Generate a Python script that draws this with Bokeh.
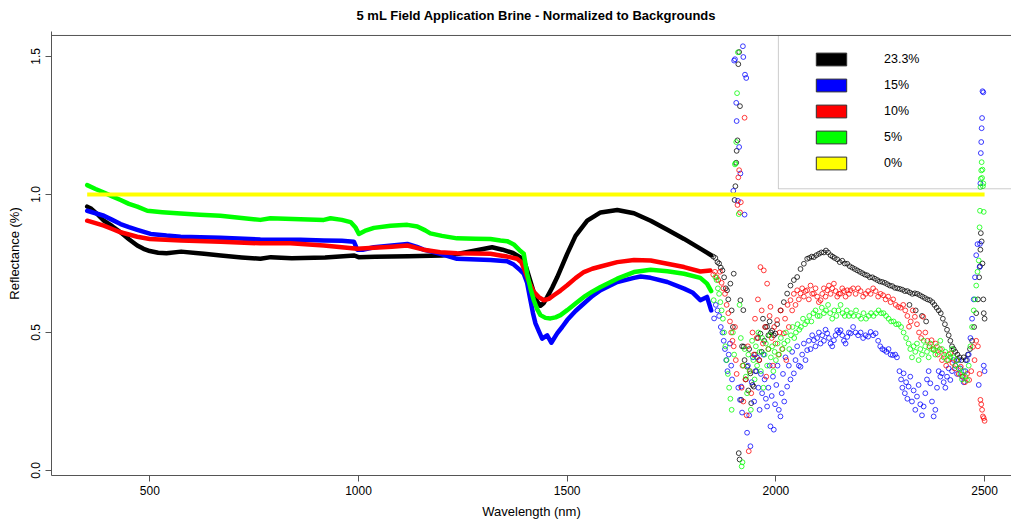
from bokeh.plotting import figure
from bokeh.models import Legend, LegendItem, BoxAnnotation, Span, FixedTicker
from bokeh.embed import file_html
from bokeh.resources import INLINE

TITLE = "5 mL Field Application Brine - Normalized to Backgrounds"
X_LABEL = "Wavelength (nm)"
Y_LABEL = "Reflectance (%)"
X_TICKS = [500, 1000, 1500, 2000, 2500]
Y_TICKS = [0.0, 0.5, 1.0, 1.5]
Y_TICK_LABELS = ["0.0", "0.5", "1.0", "1.5"]

SERIES = ["23.3%", "15%", "10%", "5%", "0%"]
COLORS = ["#000000", "#0000FF", "#FF0000", "#00FF00", "#FFFF00"]

# ---- 23.3% (black) ----
black_wl = [350, 360, 375, 390, 410, 430, 450, 470, 485, 500, 520, 540, 575, 630, 670, 720, 765, 790, 840, 920, 990,
            1000, 1040, 1120, 1200, 1240, 1280, 1320, 1345, 1370, 1390, 1400, 1410, 1420, 1428, 1436, 1444, 1452,
            1464, 1476, 1488, 1500, 1520, 1548, 1580, 1620, 1660, 1700, 1740, 1780, 1820, 1845]
black_val = [0.956, 0.948, 0.928, 0.905, 0.885, 0.863, 0.838, 0.815, 0.803, 0.795, 0.789, 0.787, 0.793, 0.785,
             0.779, 0.772, 0.767, 0.773, 0.769, 0.772, 0.779, 0.773, 0.774, 0.776, 0.779, 0.785, 0.797, 0.809,
             0.800, 0.788, 0.770, 0.745, 0.695, 0.645, 0.612, 0.597, 0.607, 0.628, 0.662, 0.700, 0.742, 0.785,
             0.850, 0.905, 0.935, 0.944, 0.932, 0.905, 0.872, 0.839, 0.803, 0.780]
black_scatter_wl = [1850, 1855, 1860, 1864, 1868, 1872, 1876, 1880, 1883, 1886, 1891, 1894, 1897, 1899, 1901, 1903,
                    1905, 1906, 1908, 1910, 1912, 1914, 1911, 1913, 1915, 1917, 1919, 1922, 1923, 1925, 1928, 1931,
                    1934, 1936, 1939, 1941, 1944, 1947, 1950, 1953, 1957, 1960, 1963, 1966, 1969, 1972, 1975, 1979,
                    1982, 1985, 1988, 1991, 1995, 1999, 2003, 2011, 2019, 2027, 2035, 2043, 2051, 2059, 2067, 2075,
                    2080, 2086, 2091, 2097, 2103, 2109, 2115, 2120, 2125, 2131, 2136, 2141, 2147, 2153, 2159, 2165,
                    2171, 2177, 2183, 2189, 2195, 2201, 2207, 2213, 2219, 2225, 2231, 2237, 2243, 2249, 2255, 2261,
                    2267, 2273, 2279, 2285, 2291, 2297, 2303, 2309, 2315, 2320, 2321, 2327, 2333, 2335, 2339, 2345,
                    2350, 2351, 2357, 2360, 2363, 2369, 2375, 2380, 2385, 2390, 2395, 2400, 2405, 2410, 2414, 2418,
                    2422, 2426, 2430, 2435, 2440, 2445, 2450, 2455, 2460, 2465, 2470, 2475, 2480, 2484, 2487, 2489,
                    2490, 2491, 2493, 2495, 2497, 2498, 2500]
black_scatter_val = [0.775, 0.770, 0.755, 0.750, 0.735, 0.725, 0.700, 0.660, 0.653, 0.620, 0.677, 0.580, 0.520,
                     0.713, 0.980, 1.030, 1.115, 1.158, 1.196, 1.472, 1.516, 1.320, 0.063, 0.040, 0.617, 0.256,
                     0.450, 0.581, 0.449, 0.400, 0.330, 0.376, 0.290, 0.440, 0.352, 0.244, 0.310, 0.304, 0.420,
                     0.360, 0.480, 0.400, 0.496, 0.430, 0.550, 0.470, 0.520, 0.521, 0.490, 0.540, 0.500, 0.507,
                     0.490, 0.496, 0.530, 0.580, 0.610, 0.641, 0.670, 0.690, 0.701, 0.730, 0.749, 0.767, 0.770,
                     0.775, 0.773, 0.780, 0.785, 0.790, 0.790, 0.797, 0.790, 0.780, 0.775, 0.770, 0.765, 0.755,
                     0.760, 0.750, 0.749, 0.740, 0.735, 0.730, 0.725, 0.720, 0.715, 0.710, 0.707, 0.700, 0.700,
                     0.695, 0.690, 0.685, 0.683, 0.680, 0.675, 0.670, 0.668, 0.662, 0.660, 0.658, 0.655, 0.650,
                     0.650, 0.600, 0.645, 0.640, 0.642, 0.580, 0.640, 0.635, 0.560, 0.630, 0.625, 0.540, 0.620,
                     0.617, 0.610, 0.600, 0.590, 0.580, 0.570, 0.550, 0.530, 0.510, 0.490, 0.470, 0.450, 0.440,
                     0.430, 0.420, 0.410, 0.400, 0.410, 0.400, 0.420, 0.440, 0.470, 0.520, 0.570, 0.620, 0.700,
                     0.740, 0.800, 0.860, 0.830, 0.750, 0.620, 0.570, 0.550]

# ---- 15% (blue) ----
blue_wl = [350, 370, 390, 410, 430, 450, 470, 502, 540, 574, 669, 765, 861, 917, 960, 989, 997, 1010, 1037, 1080,
           1117, 1140, 1156, 1196, 1236, 1316, 1356, 1372, 1388, 1396, 1404, 1412, 1418, 1424, 1432, 1440, 1452,
           1462, 1476, 1488, 1500, 1520, 1540, 1560, 1580, 1620, 1660, 1676, 1700, 1740, 1780, 1800, 1819, 1835,
           1845]
blue_val = [0.941, 0.932, 0.923, 0.908, 0.893, 0.882, 0.872, 0.857, 0.851, 0.847, 0.843, 0.837, 0.836, 0.833,
            0.832, 0.829, 0.800, 0.800, 0.809, 0.815, 0.821, 0.810, 0.800, 0.785, 0.767, 0.763, 0.758, 0.746,
            0.725, 0.713, 0.680, 0.617, 0.570, 0.533, 0.505, 0.478, 0.490, 0.463, 0.497, 0.520, 0.545, 0.578,
            0.605, 0.632, 0.653, 0.683, 0.698, 0.703, 0.698, 0.683, 0.659, 0.645, 0.617, 0.629, 0.580]
blue_scatter_wl = [1852, 1856, 1860, 1864, 1868, 1872, 1875, 1878, 1881, 1884, 1887, 1890, 1893, 1895, 1898, 1900,
                   1902, 1905, 1906, 1909, 1910, 1912, 1914, 1915, 1917, 1919, 1921, 1922, 1925, 1926, 1929, 1931,
                   1933, 1936, 1939, 1942, 1945, 1948, 1951, 1955, 1958, 1961, 1964, 1967, 1970, 1973, 1976, 1979,
                   1982, 1985, 1987, 1990, 1993, 1995, 1998, 2001, 2004, 2007, 2011, 2014, 2017, 2020, 2023, 2027,
                   2031, 2035, 2039, 2043, 2047, 2051, 2055, 2059, 2063, 2067, 2071, 2075, 2079, 2083, 2087, 2091,
                   2095, 2099, 2103, 2107, 2111, 2115, 2119, 2123, 2127, 2131, 2135, 2139, 2143, 2147, 2151, 2155,
                   2159, 2163, 2167, 2171, 2175, 2179, 2185, 2191, 2197, 2203, 2209, 2215, 2221, 2227, 2233, 2239,
                   2245, 2250, 2255, 2260, 2265, 2270, 2275, 2280, 2286, 2290, 2296, 2300, 2303, 2306, 2309, 2312,
                   2315, 2318, 2322, 2326, 2330, 2334, 2338, 2342, 2346, 2350, 2354, 2358, 2362, 2366, 2370, 2374,
                   2378, 2382, 2386, 2390, 2394, 2398, 2402, 2406, 2410, 2414, 2418, 2422, 2426, 2430, 2434, 2438,
                   2442, 2446, 2450, 2454, 2458, 2462, 2466, 2470, 2474, 2477, 2480, 2483, 2486, 2488, 2489, 2490,
                   2491, 2492, 2493, 2494, 2495, 2497, 2498, 2500]
blue_scatter_val = [0.551, 0.600, 0.580, 0.560, 0.520, 0.500, 0.470, 0.440, 0.400, 0.360, 0.420, 0.460, 0.380,
                    0.330, 1.013, 1.485, 1.490, 1.332, 1.266, 0.977, 0.300, 1.172, 0.256, 1.076, 0.304, 0.210,
                    1.537, 1.498, 0.927, 1.434, 1.422, 0.137, 0.380, 0.200, 0.088, 0.320, 0.410, 0.250, 0.360,
                    0.410, 0.300, 0.220, 0.350, 0.280, 0.420, 0.330, 0.260, 0.232, 0.300, 0.380, 0.160, 0.270,
                    0.340, 0.148, 0.240, 0.310, 0.380, 0.220, 0.196, 0.280, 0.350, 0.250, 0.410, 0.304, 0.380,
                    0.330, 0.430, 0.352, 0.400, 0.450, 0.380, 0.376, 0.420, 0.460, 0.400, 0.436, 0.470, 0.440,
                    0.490, 0.472, 0.450, 0.480, 0.500, 0.460, 0.490, 0.470, 0.510, 0.497, 0.480, 0.460, 0.450,
                    0.472, 0.490, 0.508, 0.500, 0.508, 0.490, 0.470, 0.460, 0.484, 0.500, 0.497, 0.520, 0.500,
                    0.490, 0.500, 0.480, 0.490, 0.485, 0.502, 0.490, 0.497, 0.470, 0.450, 0.440, 0.436, 0.430,
                    0.440, 0.420, 0.418, 0.420, 0.410, 0.360, 0.330, 0.300, 0.352, 0.280, 0.320, 0.260, 0.304,
                    0.340, 0.250, 0.290, 0.220, 0.268, 0.310, 0.240, 0.200, 0.232, 0.280, 0.330, 0.360, 0.316,
                    0.250, 0.196, 0.220, 0.300, 0.360, 0.340, 0.352, 0.320, 0.300, 0.340, 0.370, 0.328, 0.360,
                    0.400, 0.380, 0.350, 0.400, 0.370, 0.340, 0.320, 0.360, 0.400, 0.420, 0.480, 0.550, 0.620,
                    0.700, 0.780, 0.820, 0.310, 0.737, 0.821, 1.040, 1.150, 1.190, 1.240, 1.277, 1.374, 1.370,
                    0.380, 0.360]

# ---- 10% (red) ----
red_wl = [350, 370, 390, 410, 430, 450, 470, 500, 575, 670, 765, 837, 917, 997, 1037, 1080, 1117, 1156, 1196, 1236,
          1316, 1340, 1356, 1380, 1390, 1397, 1404, 1412, 1420, 1432, 1444, 1456, 1468, 1484, 1500, 1520, 1540, 1560,
          1580, 1620, 1660, 1700, 1740, 1780, 1819, 1843]
red_val = [0.905, 0.896, 0.887, 0.875, 0.863, 0.855, 0.847, 0.839, 0.833, 0.829, 0.823, 0.823, 0.815, 0.803,
           0.807, 0.811, 0.815, 0.800, 0.791, 0.787, 0.785, 0.779, 0.775, 0.767, 0.755, 0.730, 0.701, 0.672,
           0.647, 0.628, 0.617, 0.622, 0.635, 0.652, 0.671, 0.697, 0.719, 0.731, 0.739, 0.755, 0.763, 0.761,
           0.749, 0.737, 0.721, 0.725]
red_scatter_wl = [1850, 1854, 1858, 1862, 1866, 1870, 1874, 1878, 1882, 1886, 1890, 1893, 1896, 1899, 1902, 1904,
                  1906, 1908, 1910, 1912, 1914, 1916, 1918, 1920, 1922, 1925, 1927, 1930, 1933, 1935, 1938, 1941,
                  1944, 1947, 1950, 1954, 1957, 1960, 1963, 1966, 1969, 1971, 1974, 1977, 1979, 1982, 1985, 1987,
                  1990, 1993, 1996, 1999, 2003, 2006, 2009, 2012, 2015, 2019, 2022, 2025, 2028, 2031, 2035, 2039,
                  2043, 2047, 2051, 2055, 2059, 2063, 2067, 2071, 2075, 2079, 2083, 2087, 2091, 2095, 2099, 2103,
                  2107, 2111, 2115, 2119, 2123, 2127, 2131, 2135, 2139, 2143, 2147, 2151, 2155, 2159, 2163, 2167,
                  2171, 2175, 2179, 2185, 2191, 2197, 2203, 2209, 2215, 2221, 2227, 2233, 2239, 2245, 2251, 2257,
                  2263, 2269, 2275, 2281, 2287, 2293, 2299, 2305, 2310, 2315, 2319, 2323, 2328, 2333, 2338, 2343,
                  2348, 2353, 2358, 2363, 2368, 2373, 2378, 2383, 2388, 2393, 2398, 2403, 2408, 2413, 2418, 2423,
                  2428, 2433, 2438, 2443, 2448, 2453, 2458, 2463, 2468, 2472, 2476, 2480, 2484, 2488, 2490, 2492,
                  2494, 2496, 2498, 2500]
red_scatter_val = [0.710, 0.720, 0.700, 0.690, 0.720, 0.680, 0.660, 0.640, 0.600, 0.570, 0.540, 0.500, 0.470,
                   0.450, 0.520, 0.400, 0.350, 0.962, 1.062, 1.088, 0.935, 0.972, 0.300, 0.380, 0.250, 1.278,
                   0.330, 0.200, 0.450, 0.070, 0.360, 0.280, 0.500, 0.420, 0.550, 0.480, 0.620, 0.400, 0.737,
                   0.580, 0.460, 0.725, 0.520, 0.340, 0.677, 0.440, 0.560, 0.593, 0.480, 0.380, 0.520, 0.460,
                   0.545, 0.420, 0.500, 0.580, 0.440, 0.497, 0.550, 0.400, 0.600, 0.520, 0.617, 0.580, 0.640,
                   0.600, 0.653, 0.620, 0.641, 0.660, 0.630, 0.650, 0.653, 0.620, 0.670, 0.640, 0.641, 0.660,
                   0.630, 0.610, 0.617, 0.640, 0.660, 0.630, 0.653, 0.670, 0.640, 0.660, 0.677, 0.650, 0.630,
                   0.640, 0.641, 0.660, 0.650, 0.630, 0.653, 0.640, 0.653, 0.660, 0.640, 0.660, 0.650, 0.630,
                   0.640, 0.650, 0.640, 0.660, 0.650, 0.630, 0.640, 0.635, 0.620, 0.630, 0.610, 0.620, 0.600,
                   0.593, 0.590, 0.600, 0.580, 0.560, 0.521, 0.540, 0.580, 0.557, 0.530, 0.500, 0.480, 0.557,
                   0.500, 0.470, 0.450, 0.472, 0.440, 0.460, 0.420, 0.440, 0.400, 0.420, 0.380, 0.400, 0.424,
                   0.390, 0.370, 0.400, 0.350, 0.376, 0.340, 0.320, 0.350, 0.328, 0.360, 0.448, 0.400, 0.470,
                   0.450, 0.350, 0.256, 0.240, 0.220, 0.196, 0.190, 0.180]

# ---- 5% (green) ----
green_wl = [350, 370, 390, 410, 430, 450, 470, 494, 530, 574, 620, 669, 720, 765, 789, 861, 917, 933, 960, 981, 993,
            1001, 1015, 1037, 1077, 1117, 1141, 1160, 1172, 1200, 1236, 1280, 1316, 1340, 1356, 1372, 1388, 1396,
            1404, 1412, 1420, 1428, 1436, 1448, 1460, 1472, 1484, 1500, 1520, 1540, 1560, 1580, 1620, 1660, 1700,
            1740, 1780, 1819, 1835, 1845]
green_val = [1.034, 1.020, 1.007, 0.993, 0.980, 0.966, 0.956, 0.941, 0.936, 0.931, 0.927, 0.923, 0.915, 0.908,
             0.914, 0.910, 0.908, 0.914, 0.908, 0.900, 0.880, 0.857, 0.868, 0.879, 0.887, 0.890, 0.884, 0.870,
             0.859, 0.850, 0.841, 0.840, 0.839, 0.833, 0.831, 0.819, 0.795, 0.785, 0.713, 0.660, 0.617, 0.585,
             0.563, 0.553, 0.551, 0.555, 0.563, 0.581, 0.605, 0.629, 0.648, 0.665, 0.695, 0.719, 0.727, 0.722,
             0.713, 0.698, 0.677, 0.650]
green_scatter_wl = [1851, 1855, 1858, 1861, 1864, 1867, 1870, 1873, 1876, 1879, 1882, 1885, 1888, 1891, 1894, 1897,
                    1900, 1902, 1903, 1905, 1907, 1909, 1911, 1913, 1916, 1918, 1920, 1922, 1925, 1928, 1931, 1934,
                    1937, 1940, 1943, 1946, 1949, 1952, 1955, 1958, 1961, 1964, 1967, 1970, 1973, 1976, 1979, 1982,
                    1985, 1988, 1991, 1994, 1997, 2000, 2004, 2008, 2012, 2016, 2020, 2024, 2028, 2032, 2036, 2040,
                    2044, 2048, 2052, 2056, 2060, 2065, 2070, 2075, 2080, 2085, 2090, 2095, 2100, 2105, 2110, 2115,
                    2120, 2125, 2130, 2135, 2140, 2145, 2150, 2155, 2160, 2165, 2170, 2175, 2180, 2186, 2192, 2198,
                    2204, 2210, 2216, 2222, 2228, 2234, 2240, 2246, 2252, 2258, 2264, 2270, 2276, 2282, 2288, 2294,
                    2300, 2306, 2312, 2318, 2322, 2326, 2330, 2334, 2338, 2342, 2346, 2350, 2354, 2358, 2362, 2366,
                    2370, 2374, 2378, 2382, 2386, 2390, 2394, 2398, 2402, 2406, 2410, 2414, 2418, 2422, 2426, 2430,
                    2434, 2438, 2442, 2446, 2450, 2454, 2458, 2462, 2466, 2470, 2474, 2477, 2480, 2483, 2486, 2488,
                    2489, 2490, 2491, 2492, 2493, 2494, 2495, 2496, 2497, 2498]
green_scatter_val = [0.617, 0.700, 0.690, 0.660, 0.640, 0.610, 0.580, 0.550, 0.500, 0.450, 0.400, 0.350, 0.300,
                     0.260, 0.220, 0.500, 0.420, 1.109, 1.113, 1.190, 1.367, 1.515, 0.929, 0.600, 0.480, 0.015,
                     0.030, 0.380, 0.440, 0.340, 0.280, 0.420, 0.360, 0.220, 0.470, 0.400, 0.330, 0.450, 0.380,
                     0.500, 0.430, 0.360, 0.480, 0.300, 0.420, 0.460, 0.380, 0.440, 0.490, 0.410, 0.450, 0.360,
                     0.430, 0.400, 0.460, 0.420, 0.480, 0.440, 0.460, 0.500, 0.470, 0.440, 0.490, 0.520, 0.480,
                     0.500, 0.530, 0.510, 0.520, 0.550, 0.530, 0.540, 0.560, 0.540, 0.570, 0.580, 0.560, 0.560,
                     0.590, 0.570, 0.580, 0.600, 0.570, 0.550, 0.580, 0.560, 0.580, 0.600, 0.570, 0.560, 0.580,
                     0.560, 0.570, 0.560, 0.580, 0.560, 0.550, 0.570, 0.550, 0.560, 0.570, 0.560, 0.570, 0.580,
                     0.570, 0.570, 0.560, 0.550, 0.540, 0.540, 0.530, 0.530, 0.520, 0.500, 0.480, 0.460, 0.440,
                     0.410, 0.450, 0.430, 0.460, 0.400, 0.440, 0.420, 0.470, 0.450, 0.430, 0.410, 0.460, 0.440,
                     0.436, 0.420, 0.450, 0.430, 0.470, 0.440, 0.410, 0.430, 0.400, 0.420, 0.412, 0.440, 0.410,
                     0.380, 0.400, 0.370, 0.350, 0.330, 0.360, 0.340, 0.328, 0.380, 0.450, 0.520, 0.580, 0.620,
                     0.670, 0.720, 0.761, 0.881, 0.941, 1.027, 1.057, 1.087, 1.117, 1.060, 1.090, 1.030, 1.040,
                     0.937]

# ---- 0% (yellow) ----
yellow_wl = [350, 2500]
yellow_val = [1.0, 1.0]

FONT = "Liberation Sans"
AXIS_COLOR = "#555555"
BOX_TOP = 1.576  # where R draws the top of the plot box

p = figure(width=1011, height=521, output_backend="svg", toolbar_location=None,
           x_range=(264.5, 2564.5), y_range=(-0.018, 1.5904),
           min_border_left=51, min_border_right=0, min_border_top=30, min_border_bottom=45)
p.background_fill_color = "white"
p.border_fill_color = "white"
p.outline_line_color = None
p.grid.visible = False

# title: centred over the full R plot region (which runs past the right edge of the window)
p.title.text = TITLE
p.title.align = "left"
p.title.offset = 305
p.title.vertical_align = "top"
p.title.standoff = 14
p.title.text_font = FONT
p.title.text_font_size = "13px"
p.title.text_font_style = "bold"
p.title.text_color = "#000000"

for ax in (p.xaxis[0], p.yaxis[0]):
    ax.axis_line_color = AXIS_COLOR
    ax.major_tick_line_color = AXIS_COLOR
    ax.major_tick_out = 6
    ax.major_tick_in = 0
    ax.minor_tick_line_color = None
    ax.major_label_text_font = FONT
    ax.major_label_text_font_size = "12px"
    ax.major_label_text_color = "#000000"
    ax.axis_label_text_font = FONT
    ax.axis_label_text_font_size = "13px"
    ax.axis_label_text_font_style = "normal"
    ax.axis_label_text_color = "#000000"

p.xaxis.ticker = FixedTicker(ticks=X_TICKS)
p.xaxis.axis_label = X_LABEL
p.xaxis.major_label_standoff = 4
p.xaxis.axis_label_standoff = 6

p.yaxis.ticker = FixedTicker(ticks=Y_TICKS)
p.yaxis.major_label_overrides = {t: s for t, s in zip(Y_TICKS, Y_TICK_LABELS)}
p.yaxis.major_label_orientation = "vertical"
p.yaxis.axis_label = Y_LABEL
p.yaxis.major_label_standoff = 5
p.yaxis.axis_label_standoff = 7

# top edge of the plot box
p.add_layout(Span(location=BOX_TOP, dimension="width", line_color=AXIS_COLOR, line_width=1))

series = [
    (black_wl, black_val, black_scatter_wl, black_scatter_val),
    (blue_wl, blue_val, blue_scatter_wl, blue_scatter_val),
    (red_wl, red_val, red_scatter_wl, red_scatter_val),
    (green_wl, green_val, green_scatter_wl, green_scatter_val),
]
for (wl, val, swl, sval), color in zip(series, COLORS[:4]):
    p.line(wl, val, line_color=color, line_width=4.5, line_join="round", line_cap="round")
    p.scatter(swl, sval, marker="circle", size=4.8, fill_color=None, line_color=color,
              line_width=0.9, line_alpha=0.85)

p.line(yellow_wl, yellow_val, line_color=COLORS[4], line_width=4.2)

# legend box (R-style, anchored at the top-right of the plot box)
p.add_layout(BoxAnnotation(left=2006, bottom=1.0206, top=BOX_TOP, fill_alpha=0, line_color=AXIS_COLOR,
                           line_width=1, level="overlay"))
all_wl = [black_wl, blue_wl, red_wl, green_wl, yellow_wl]
all_val = [black_val, blue_val, red_val, green_val, yellow_val]
items = []
for name, color, wl, val in zip(SERIES, COLORS, all_wl, all_val):
    # zero-size, hidden key glyph: only used to draw the legend swatch
    r = p.quad(left=wl[:1], right=wl[:1], top=val[:1], bottom=val[:1],
               fill_color=color, line_color="#333333", line_width=1)
    r.visible = False
    items.append(LegendItem(label=name, renderers=[r]))
legend = Legend(items=items, location=(761, 304), orientation="vertical",
                border_line_color=None, background_fill_alpha=0, padding=0, margin=0,
                spacing=10, glyph_width=38, glyph_height=16, label_height=16, label_standoff=34,
                label_text_font=FONT, label_text_font_size="12.5px", label_text_color="#000000")
p.add_layout(legend)

open("out.html", "w").write(file_html(p, INLINE))
